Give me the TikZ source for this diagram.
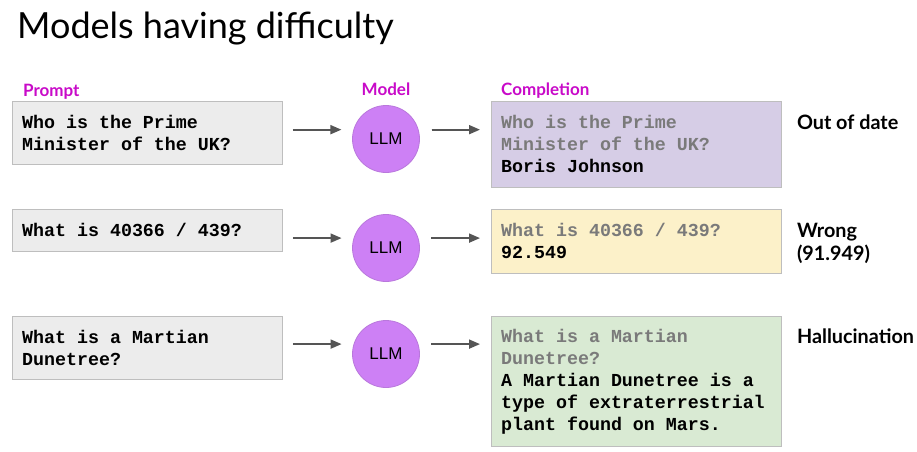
\documentclass[tikz,border=0pt]{standalone}
\usepackage{fontspec}
\setmainfont{Lato}
\newfontfamily\codefont[WordSpace={1,0,0},HyphenChar=None]{Liberation Mono}
\newfontfamily\llmfont{Liberation Sans}
\DeclareRobustCommand\codestyle{\codefont\bfseries\fontsize{18.3}{22}\selectfont}
\usetikzlibrary{arrows.meta}
\definecolor{promptgray}{RGB}{236,236,236}
\definecolor{boxline}{RGB}{190,190,190}
\definecolor{lavender}{RGB}{214,205,230}
\definecolor{paleyellow}{RGB}{252,241,201}
\definecolor{palegreen}{RGB}{217,234,211}
\definecolor{echogray}{RGB}{122,122,122}
\definecolor{arrowgray}{RGB}{85,85,85}
\definecolor{llmfill}{RGB}{205,128,245}
\definecolor{llmline}{RGB}{185,120,220}
\definecolor{headpink}{RGB}{200,10,200}

\begin{document}
\begin{tikzpicture}[x=1pt,y=-1pt]
\tikzstyle{arrow}=[-{Triangle[length=11pt,width=9pt]},line width=1.8pt,draw=arrowgray,fill=arrowgray]
\tikzstyle{box}=[rectangle,draw=boxline,line width=0.8pt,anchor=north west,minimum width=270pt,inner sep=0pt]
\tikzstyle{answer}=[box,minimum width=290pt]
\tikzstyle{code}=[anchor=west,align=left,inner sep=0pt,font=\codestyle]
\tikzstyle{llm}=[circle,draw=llmline,fill=llmfill,line width=0.8pt,minimum size=67pt,inner sep=0pt,font=\llmfont\fontsize{17}{17}\selectfont]
\tikzstyle{head}=[text=headpink,font=\bfseries\fontsize{17}{17}\selectfont,inner sep=0pt]
\tikzstyle{verdict}=[font=\bfseries\fontsize{19.8}{23}\selectfont,anchor=base west,align=left,inner sep=0pt]
	\useasboundingbox (0,0) rectangle (917,451);

	\node[anchor=base west,inner sep=0pt,font=\fontsize{36}{36}\selectfont] (title) at (17,38) {Models having difficulty};

	\node[head,anchor=base west] (lprompt) at (23,96) {Prompt};
	\node[head,anchor=base] (lmodel) at (386,95) {Model};
	\node[head,anchor=base west] (lcompl) at (501,95) {Completion};

	\node[box,fill=promptgray,minimum height=63pt] (p1) at (12,101) {};
	\node[box,fill=promptgray,minimum height=42pt] (p2) at (12,209) {};
	\node[box,fill=promptgray,minimum height=63pt] (p3) at (12,316) {};
	\node[code] (p1t) at ([xshift=10pt]p1.west) {Who is the Prime\\Minister of the UK?};
	\node[code] (p2t) at ([xshift=10pt]p2.west) {What is 40366 / 439?};
	\node[code] (p3t) at ([xshift=10pt]p3.west) {What is a Martian\\Dunetree?};

	\node[llm] (m1) at (386,139) {LLM};
	\node[llm] (m2) at (386,248) {LLM};
	\node[llm] (m3) at (386,354) {LLM};

	\node[answer,fill=lavender,minimum height=86pt] (c1) at (491,101) {};
	\node[answer,fill=paleyellow,minimum height=64pt] (c2) at (491,209) {};
	\node[answer,fill=palegreen,minimum height=130pt] (c3) at (491,316) {};
	\node[code] (c1t) at ([xshift=10pt]c1.west) {\textcolor{echogray}{Who is the Prime}\\\textcolor{echogray}{Minister of the UK?}\\Boris Johnson};
	\node[code] (c2t) at ([xshift=10pt]c2.west) {\textcolor{echogray}{What is 40366 / 439?}\\92.549};
	\node[code] (c3t) at ([xshift=10pt]c3.west) {\textcolor{echogray}{What is a Martian}\\\textcolor{echogray}{Dunetree?}\\A Martian Dunetree is a\\type of extraterrestrial\\plant found on Mars.};

	\node[verdict] (v1) at ([xshift=15pt,yshift=-28pt]c1.north east) {Out of date};
	\node[verdict] (v2) at ([xshift=15pt,yshift=-51pt]c2.north east) {Wrong\\(91.949)};
	\node[verdict] (v3) at ([xshift=15pt,yshift=-27pt]c3.north east) {Hallucination};

	\draw[arrow] ([xshift=10pt]p1.east |- m1.164) -- ([xshift=-12pt]m1.164);
	\draw[arrow] ([xshift=10pt]p2.east |- m2.163) -- ([xshift=-12pt]m2.163);
	\draw[arrow] ([xshift=10pt]p3.east |- m3.163) -- ([xshift=-12pt]m3.163);

	\draw[arrow] ([xshift=13pt]m1.16) -- ([xshift=-11pt]c1.west |- m1.16);
	\draw[arrow] ([xshift=13pt]m2.17) -- ([xshift=-11pt]c2.west |- m2.17);
	\draw[arrow] ([xshift=13pt]m3.17) -- ([xshift=-11pt]c3.west |- m3.17);
\end{tikzpicture}
\end{document}
